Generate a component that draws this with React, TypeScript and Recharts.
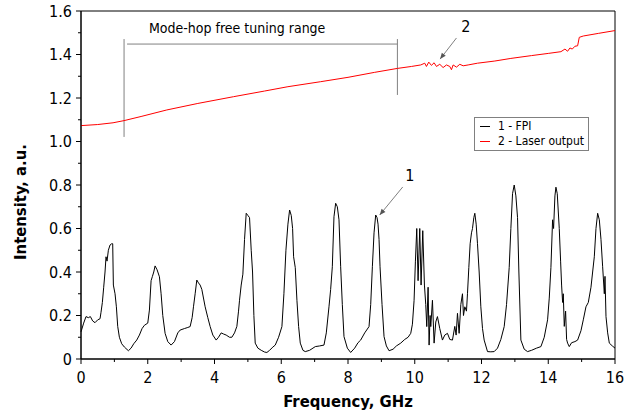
import {
  ComposedChart,
  Line,
  XAxis,
  YAxis,
  ReferenceLine,
  ReferenceDot,
  ReferenceArea,
  Legend,
} from "recharts"

// FPI transmission (curve 1)
const fpiFreq = [
  0.0, 0.08, 0.15, 0.22, 0.28, 0.35, 0.42, 0.5, 0.57, 0.6, 0.64, 0.68, 0.72, 0.75, 0.78, 0.82, 0.87, 0.92, 0.95, 0.97,
  1.02, 1.06, 1.1, 1.15, 1.22, 1.3, 1.42, 1.5, 1.58, 1.67, 1.75, 1.83, 1.9, 2.0, 2.05, 2.1, 2.14, 2.18, 2.22, 2.28,
  2.35, 2.4, 2.45, 2.52, 2.6, 2.7, 2.8, 2.9, 2.97, 3.1, 3.2, 3.27, 3.33, 3.37, 3.42, 3.47, 3.52, 3.57, 3.62, 3.72,
  3.8, 3.87, 3.95, 4.05, 4.12, 4.2, 4.27, 4.35, 4.45, 4.52, 4.6, 4.67, 4.72, 4.75, 4.8, 4.85, 4.9, 4.95, 5.0, 5.05,
  5.1, 5.14, 5.18, 5.22, 5.3, 5.4, 5.5, 5.57, 5.65, 5.75, 5.82, 5.92, 6.02, 6.08, 6.14, 6.2, 6.25, 6.3, 6.34, 6.37,
  6.42, 6.47, 6.52, 6.57, 6.65, 6.72, 6.85, 7.02, 7.15, 7.28, 7.35, 7.43, 7.48, 7.53, 7.58, 7.63, 7.68, 7.73, 7.78, 7.83,
  7.88, 7.98, 8.08, 8.2, 8.3, 8.38, 8.5, 8.63, 8.68, 8.73, 8.78, 8.83, 8.87, 8.9, 8.93, 8.96, 9.02, 9.08, 9.15, 9.23,
  9.35, 9.45, 9.58, 9.7, 9.8, 9.88, 9.93, 9.98, 10.02, 10.06, 10.1, 10.15, 10.19, 10.24, 10.29, 10.33, 10.36, 10.4, 10.43, 10.46,
  10.48, 10.53, 10.58, 10.63, 10.68, 10.75, 10.83, 10.9, 10.98, 11.05, 11.13, 11.2, 11.24, 11.28, 11.33, 11.38, 11.43, 11.46, 11.5, 11.55,
  11.58, 11.62, 11.66, 11.7, 11.73, 11.77, 11.8, 11.84, 11.88, 11.93, 11.98, 12.03, 12.08, 12.18, 12.28, 12.38, 12.48, 12.58, 12.68, 12.75,
  12.83, 12.88, 12.93, 12.98, 13.03, 13.08, 13.12, 13.18, 13.28, 13.38, 13.5, 13.65, 13.78, 13.88, 13.98, 14.03, 14.08, 14.13, 14.16, 14.2,
  14.23, 14.27, 14.33, 14.37, 14.4, 14.43, 14.45, 14.48, 14.52, 14.55, 14.58, 14.63, 14.7, 14.8, 14.88, 14.98, 15.05, 15.13, 15.2, 15.28,
  15.33, 15.38, 15.43, 15.48, 15.53, 15.58, 15.63, 15.68, 15.7, 15.73, 15.78, 15.83, 15.92, 16.0,
]
const fpiIntensity = [
  0.125, 0.165, 0.195, 0.19, 0.195, 0.175, 0.167, 0.18, 0.185, 0.215, 0.26, 0.33, 0.4, 0.47, 0.45, 0.5, 0.524, 0.53, 0.53, 0.34,
  0.3, 0.24, 0.15, 0.1, 0.07, 0.055, 0.038, 0.05, 0.07, 0.087, 0.11, 0.14, 0.155, 0.165, 0.225, 0.36, 0.38, 0.4, 0.428, 0.41,
  0.378, 0.3, 0.2, 0.118, 0.08, 0.064, 0.08, 0.12, 0.133, 0.14, 0.145, 0.149, 0.19, 0.24, 0.3, 0.363, 0.35, 0.34, 0.32, 0.24,
  0.19, 0.149, 0.11, 0.087, 0.1, 0.12, 0.115, 0.11, 0.1, 0.1, 0.12, 0.15, 0.22, 0.27, 0.34, 0.39, 0.55, 0.67, 0.66, 0.65,
  0.5, 0.4, 0.2, 0.073, 0.05, 0.04, 0.032, 0.03, 0.04, 0.055, 0.064, 0.1, 0.149, 0.3, 0.5, 0.62, 0.685, 0.66, 0.6, 0.47,
  0.42, 0.27, 0.15, 0.073, 0.04, 0.034, 0.04, 0.057, 0.06, 0.064, 0.12, 0.24, 0.32, 0.424, 0.654, 0.716, 0.7, 0.64, 0.424, 0.25,
  0.103, 0.05, 0.03, 0.05, 0.075, 0.087, 0.12, 0.149, 0.25, 0.424, 0.58, 0.662, 0.65, 0.62, 0.55, 0.424, 0.25, 0.103, 0.06, 0.038,
  0.045, 0.06, 0.073, 0.09, 0.1, 0.118, 0.16, 0.27, 0.45, 0.6, 0.36, 0.6, 0.34, 0.59, 0.34, 0.25, 0.149, 0.33, 0.064, 0.2,
  0.149, 0.27, 0.073, 0.17, 0.195, 0.14, 0.087, 0.11, 0.118, 0.09, 0.087, 0.15, 0.11, 0.21, 0.118, 0.25, 0.3, 0.2, 0.24, 0.22,
  0.3, 0.42, 0.53, 0.58, 0.6, 0.65, 0.67, 0.62, 0.53, 0.4, 0.24, 0.14, 0.087, 0.034, 0.033, 0.034, 0.05, 0.09, 0.149, 0.25,
  0.42, 0.6, 0.76, 0.8, 0.75, 0.65, 0.4, 0.087, 0.045, 0.034, 0.04, 0.05, 0.057, 0.1, 0.18, 0.28, 0.42, 0.64, 0.6, 0.75,
  0.79, 0.76, 0.6, 0.45, 0.34, 0.26, 0.3, 0.15, 0.22, 0.09, 0.073, 0.057, 0.075, 0.08, 0.087, 0.13, 0.18, 0.24, 0.26, 0.33,
  0.4, 0.47, 0.6, 0.67, 0.64, 0.55, 0.424, 0.3, 0.38, 0.195, 0.12, 0.073, 0.06, 0.05,
]

// Laser output (curve 2)
const laserFreq = [
  0, 0.5, 0.96, 1.29, 1.8, 2.57, 3.5, 4.57, 5.5, 6.2, 7.18, 8.0, 8.8, 9.48, 9.9, 10.18, 10.3, 10.35, 10.42, 10.5,
  10.58, 10.65, 10.75, 10.85, 10.95, 11.05, 11.1, 11.15, 11.25, 11.35, 11.45, 11.6, 11.88, 12.4, 12.88, 13.5, 14.0, 14.38, 14.5, 14.58,
  14.65, 14.72, 14.8, 14.88, 14.93, 15.05, 15.5, 16.0,
]
const laserIntensity = [
  1.073, 1.078, 1.086, 1.096, 1.115, 1.145, 1.175, 1.206, 1.232, 1.252, 1.275, 1.295, 1.318, 1.336, 1.345, 1.352, 1.36, 1.345, 1.365, 1.35,
  1.362, 1.345, 1.355, 1.34, 1.352, 1.345, 1.33, 1.352, 1.342, 1.355, 1.348, 1.352, 1.36, 1.37, 1.382, 1.395, 1.405, 1.413, 1.425, 1.415,
  1.43, 1.425, 1.438, 1.44, 1.479, 1.485, 1.497, 1.51,
]

const xTicks = [0, 1, 2, 3, 4, 5, 6, 7, 8, 9, 10, 11, 12, 13, 14, 15, 16]
const yTicks = [0, 0.1, 0.2, 0.3, 0.4, 0.5, 0.6, 0.7, 0.8, 0.9, 1.0, 1.1, 1.2, 1.3, 1.4, 1.5, 1.6]

const fpiData = fpiFreq.map((x, i) => ({ x, y: fpiIntensity[i] }))
const laserData = laserFreq.map((x, i) => ({ x, y: laserIntensity[i] }))

const FONT = '"DejaVu Sans Condensed", "DejaVu Sans", sans-serif'
const GRAY = "#808080"

const YTick = ({ x, y, payload }: any) => {
  const major = Math.round(payload.value * 10) % 2 === 0
  const label = payload.value === 0 ? "0" : payload.value.toFixed(1)
  return (
    <g>
      <line x1={x} x2={x - (major ? 5 : 3)} y1={y} y2={y} stroke="#000" />
      {major && (
        <text x={x - 9} y={y} dy={5.5} textAnchor="end" fontSize={16} fontFamily={FONT} fill="#000">
          {label}
        </text>
      )}
    </g>
  )
}

const XTick = ({ x, y, payload }: any) => {
  const major = payload.value % 2 === 0
  return (
    <g>
      <line x1={x} x2={x} y1={y} y2={y + (major ? 5 : 3)} stroke="#000" />
      {major && (
        <text x={x} y={y + 24} textAnchor="middle" fontSize={16} fontFamily={FONT} fill="#000">
          {payload.value}
        </text>
      )}
    </g>
  )
}

const Arrow = (props: any) => {
  const { x1, y1, x2, y2 } = props
  const a = Math.atan2(y2 - y1, x2 - x1)
  const len = 6
  const w = 2.5
  const bx = x2 - len * Math.cos(a)
  const by = y2 - len * Math.sin(a)
  const px = -Math.sin(a) * w
  const py = Math.cos(a) * w
  return (
    <g>
      <line x1={x1} y1={y1} x2={x2} y2={y2} stroke={GRAY} strokeWidth={1} />
      <polygon points={`${x2},${y2} ${bx + px},${by + py} ${bx - px},${by - py}`} fill="#555" />
    </g>
  )
}

const textShape = (text: string, size: number) => (props: any) => (
  <text x={props.cx} y={props.cy} dy={size * 0.35} textAnchor="middle" fontSize={size} fontFamily={FONT} fill="#000">
    {text}
  </text>
)

const LegendBox = () => (
  <div
    style={{
      border: `1px solid ${GRAY}`,
      background: "#fff",
      fontFamily: FONT,
      fontSize: 12,
      lineHeight: "15px",
      padding: "1px 4px 1px 5px",
      color: "#000",
      whiteSpace: "nowrap",
    }}
  >
    <div style={{ display: "flex", alignItems: "center" }}>
      <span style={{ width: 10, height: 1, background: "#000", marginRight: 8 }} />1 - FPI
    </div>
    <div style={{ display: "flex", alignItems: "center" }}>
      <span style={{ width: 10, height: 1, background: "#ff0000", marginRight: 8 }} />2 - Laser output
    </div>
  </div>
)

export default function App() {
  return (
    <div style={{ position: "fixed", left: 0, top: 0, background: "#fff" }}>
      <ComposedChart width={629} height={414} margin={{ top: 11, right: 14, bottom: 0, left: 0 }}>
        <XAxis
          dataKey="x"
          type="number"
          domain={[0, 16]}
          ticks={xTicks}
          interval={0}
          tickSize={0}
          tickMargin={0}
          height={55}
          stroke="#000"
          tick={<XTick />}
          label={{
            value: "Frequency, GHz",
            position: "insideBottom",
            offset: 7,
            style: { fontFamily: FONT, fontWeight: "bold", fontSize: 16.5, fill: "#000" },
          }}
        />
        <YAxis
          dataKey="y"
          type="number"
          domain={[0, 1.6]}
          ticks={yTicks}
          interval={0}
          tickSize={0}
          tickMargin={0}
          width={81}
          stroke="#000"
          tick={<YTick />}
          label={{
            content: ({ viewBox }: any) => {
              const cx = 20
              const cy = viewBox.y + viewBox.height / 2 + 17
              return (
                <text
                  x={cx}
                  y={cy}
                  transform={`rotate(-90, ${cx}, ${cy})`}
                  textAnchor="middle"
                  dy={5.5}
                  fontFamily={FONT}
                  fontWeight="bold"
                  fontSize={16.5}
                  fill="#000"
                >
                  Intensity, a.u.
                </text>
              )
            },
          }}
        />
        <ReferenceArea x1={0} x2={16} y1={0} y2={1.6} fill="none" stroke="#000" strokeWidth={1} />

        {/* mode-hop free tuning range bracket */}
        <ReferenceLine segment={[{ x: 1.29, y: 1.021 }, { x: 1.29, y: 1.471 }]} stroke={GRAY} />
        <ReferenceLine segment={[{ x: 1.38, y: 1.448 }, { x: 9.48, y: 1.448 }]} stroke={GRAY} />
        <ReferenceLine segment={[{ x: 9.48, y: 1.214 }, { x: 9.48, y: 1.471 }]} stroke={GRAY} />
        <ReferenceDot x={4.68} y={1.522} r={0} shape={textShape("Mode-hop free tuning range", 14)} />

        {/* arrows */}
        <ReferenceLine segment={[{ x: 11.25, y: 1.476 }, { x: 10.76, y: 1.379 }]} shape={Arrow} />
        <ReferenceDot x={11.53} y={1.527} r={0} shape={textShape("2", 16)} />
        <ReferenceLine segment={[{ x: 9.64, y: 0.791 }, { x: 8.95, y: 0.662 }]} shape={Arrow} />
        <ReferenceDot x={9.85} y={0.846} r={0} shape={textShape("1", 16)} />

        <Line
          data={fpiData}
          dataKey="y"
          name="1 - FPI"
          type="linear"
          stroke="#000"
          strokeWidth={1}
          dot={false}
          isAnimationActive={false}
        />
        <Line
          data={laserData}
          dataKey="y"
          name="2 - Laser output"
          type="linear"
          stroke="#ff0000"
          strokeWidth={1}
          dot={false}
          isAnimationActive={false}
        />
        <Legend
          layout="horizontal"
          verticalAlign="middle"
          align="center"
          content={<LegendBox />}
          wrapperStyle={{ left: 474, top: 117, width: "auto" }}
        />
      </ComposedChart>
    </div>
  )
}
